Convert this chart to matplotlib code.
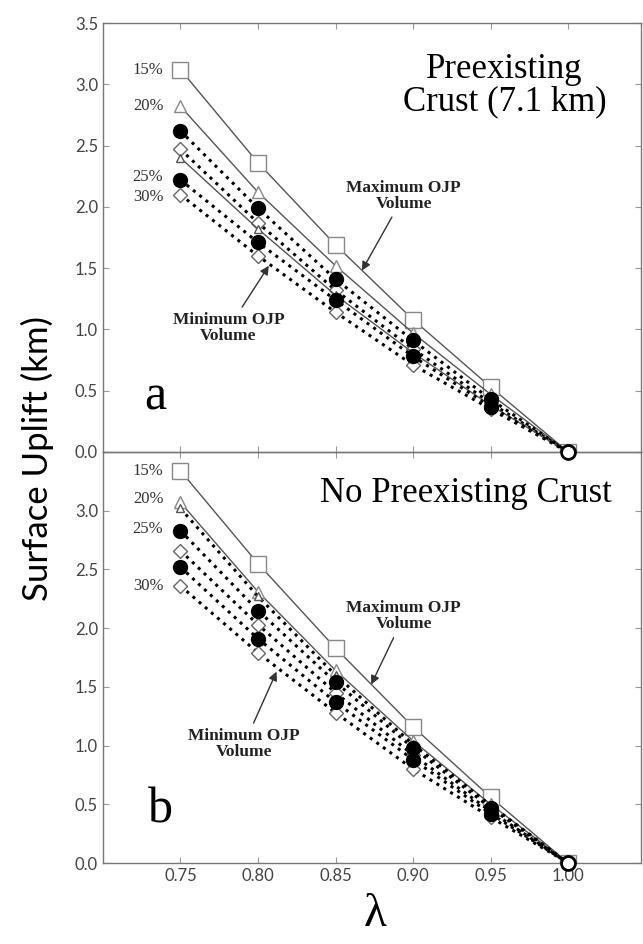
import matplotlib.pyplot as plt
import numpy as np

# melt extent (lambda) sampled for every curve
lam = [0.75, 0.80, 0.85, 0.90, 0.95, 1.00]

# (a) preexisting 7.1 km crust
a_sq = [3.12, 2.36, 1.69, 1.08, 0.53, 0.0]
a_tri = [2.82, 2.12, 1.52, 0.97, 0.47, 0.0]
a_circ1 = [2.62, 1.99, 1.41, 0.91, 0.43, 0.0]
a_dia1 = [2.47, 1.87, 1.32, 0.84, 0.40, 0.0]
a_tri2 = [2.40, 1.82, 1.28, 0.81, 0.38, 0.0]
a_circ2 = [2.22, 1.71, 1.24, 0.78, 0.37, 0.0]
a_dia2 = [2.10, 1.60, 1.14, 0.71, 0.35, 0.0]

# (b) no preexisting crust
b_sq = [3.34, 2.55, 1.83, 1.16, 0.56, 0.0]
b_tri = [3.07, 2.31, 1.64, 1.04, 0.50, 0.0]
b_tri2 = [3.02, 2.27, 1.60, 1.01, 0.49, 0.0]
b_circ1 = [2.83, 2.15, 1.54, 0.98, 0.47, 0.0]
b_dia1 = [2.66, 2.03, 1.45, 0.92, 0.44, 0.0]
b_circ2 = [2.52, 1.91, 1.37, 0.88, 0.42, 0.0]
b_dia2 = [2.36, 1.79, 1.28, 0.80, 0.39, 0.0]

pct_labels = ['15%', '20%', '25%', '30%']
a_pct_y = [3.12, 2.82, 2.24, 2.08]
b_pct_y = [3.34, 3.10, 2.84, 2.36]

serif = ['Liberation Serif', 'DejaVu Serif']
sans = ['Lato', 'DejaVu Sans']


def draw_curves(ax, curves):
    for y, kind in curves:
        if kind == 'sq':
            ax.plot(lam, y, '-', color='#555555', lw=1.0, marker='s', ms=11,
                    mfc='white', mec='#888888', mew=1.0, zorder=3)
        elif kind == 'tri':
            ax.plot(lam, y, '-', color='#555555', lw=1.0, marker='^', ms=8,
                    mfc='white', mec='#888888', mew=1.0, zorder=3)
        elif kind == 'tri_s':
            ax.plot(lam, y, '-', color='#555555', lw=1.0, marker='^', ms=6,
                    mfc='white', mec='#555555', mew=1.0, zorder=3)
        elif kind == 'tri_d':
            ax.plot(lam, y, ':', color='black', lw=2.2, marker='^', ms=6,
                    mfc='white', mec='#555555', mew=1.0, zorder=3)
        elif kind == 'circ':
            ax.plot(lam, y, ':', color='black', lw=2.2, marker='o', ms=10,
                    mfc='black', mec='black', zorder=4)
        elif kind == 'dia':
            ax.plot(lam, y, ':', color='black', lw=2.2, marker='D', ms=7,
                    mfc='white', mec='#666666', mew=1.0, zorder=3)
    # common end point at lambda = 1
    ax.plot(lam[-1], curves[0][0][-1], 'o', ms=10, mfc='white', mec='black',
            mew=2.0, zorder=6, clip_on=False)


def style_axis(ax):
    ax.set_xlim(0.70, 1.047)
    ax.set_ylim(0, 3.5)
    ax.set_xticks(lam)
    ax.set_yticks(np.arange(0, 3.51, 0.5))
    ax.tick_params(direction='in', length=4, width=0.8, color='#999999',
                   top=True, right=True, labelsize=12, labelcolor='#444444')
    for lab in ax.get_xticklabels() + ax.get_yticklabels():
        lab.set_family(sans)
    for s in ax.spines.values():
        s.set_color('#777777')
        s.set_linewidth(1.0)


def pct_text(ax, ys):
    for lab, y in zip(pct_labels, ys):
        ax.text(0.739, y, lab, ha='right', va='center', fontsize=12,
                family=serif, color='#333333')


def volume_note(ax, text, xy, xytext):
    ax.annotate(text, xy=xy, xytext=xytext, ha='center', va='center',
                fontsize=12.5, family=serif, fontweight='bold', color='#222222',
                linespacing=1.0,
                arrowprops=dict(arrowstyle='-|>', color='#333333', lw=1.0,
                                mutation_scale=13, shrinkA=2, shrinkB=0))


fig = plt.figure(figsize=(6.43, 9.44), dpi=100)
ax1 = fig.add_axes([0.160, 0.5212, 0.837, 0.4544])
ax2 = fig.add_axes([0.160, 0.0858, 0.837, 0.4354])
ax1.set_zorder(2)
ax1.patch.set_visible(False)

draw_curves(ax1, [(a_sq, 'sq'), (a_tri, 'tri'), (a_circ1, 'circ'),
                  (a_dia1, 'dia'), (a_tri2, 'tri_s'), (a_circ2, 'circ'),
                  (a_dia2, 'dia')])
draw_curves(ax2, [(b_sq, 'sq'), (b_tri, 'tri'), (b_tri2, 'tri_d'),
                  (b_circ1, 'circ'), (b_dia1, 'dia'), (b_circ2, 'circ'),
                  (b_dia2, 'dia')])

style_axis(ax1)
style_axis(ax2)
ax1.set_xticklabels([])
ytl = ax2.get_yticklabels()
ytl[-1].set_visible(False)

pct_text(ax1, a_pct_y)
pct_text(ax2, b_pct_y)

# panel notes
ax1.text(0.959, 2.99, 'Preexisting\nCrust (7.1 km)', ha='center', va='center',
         fontsize=25, family=serif, linespacing=0.95)
ax2.text(0.934, 3.15, 'No Preexisting Crust', ha='center', va='center',
         fontsize=25, family=serif)
ax1.text(0.734, 0.45, 'a', ha='center', va='center', fontsize=36, family=serif)
ax2.text(0.737, 0.45, 'b', ha='center', va='center', fontsize=36, family=serif)

volume_note(ax1, 'Maximum OJP\nVolume', xy=(0.867, 1.48), xytext=(0.894, 2.09))
volume_note(ax1, 'Minimum OJP\nVolume', xy=(0.807, 1.52), xytext=(0.781, 1.01))
volume_note(ax2, 'Maximum OJP\nVolume', xy=(0.873, 1.52), xytext=(0.894, 2.10))
volume_note(ax2, 'Minimum OJP\nVolume', xy=(0.812, 1.63), xytext=(0.791, 1.01))

fig.text(0.058, 0.514, 'Surface Uplift (km)', rotation=90, ha='center',
         va='center', fontsize=25, family=sans)
fig.text(0.583, 0.008, 'λ', ha='center', va='bottom', fontsize=34, family=serif)

fig.savefig('out.png', dpi=100)
